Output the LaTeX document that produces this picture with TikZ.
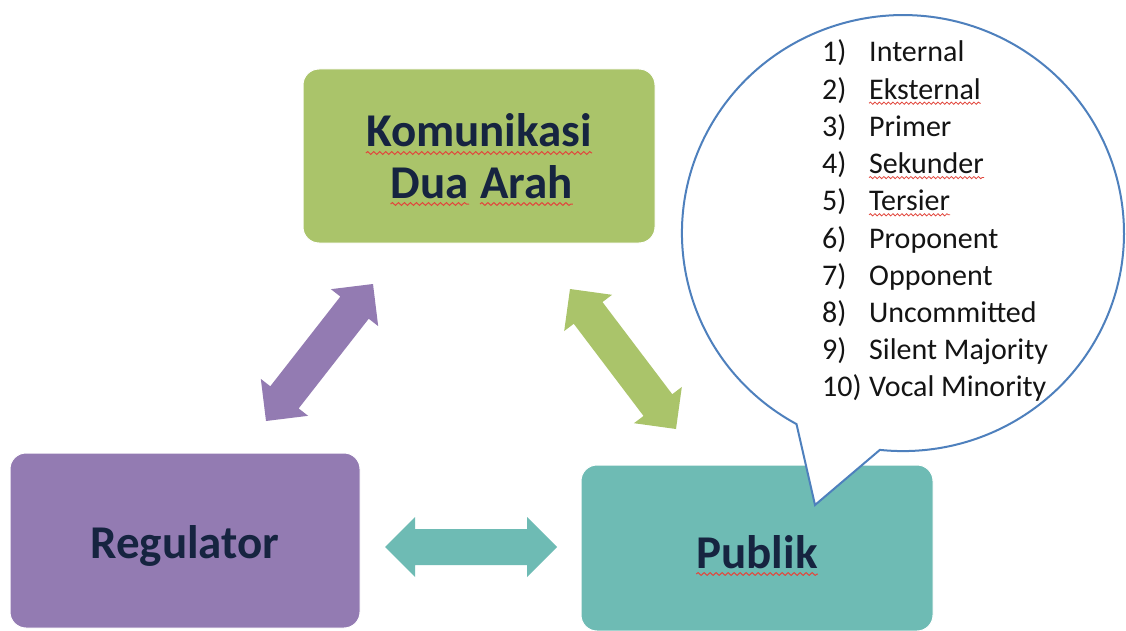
\documentclass[tikz,border=0pt]{standalone}
\usepackage{fontspec}
\setmainfont{Carlito}
\usetikzlibrary{calc,decorations.pathmorphing}
\definecolor{kgreen}{RGB}{170,196,106}
\definecolor{kpurple}{RGB}{147,123,178}
\definecolor{kteal}{RGB}{110,187,180}
\definecolor{knavy}{RGB}{22,36,64}
\definecolor{kblue}{RGB}{78,128,189}
\definecolor{ktext}{RGB}{20,20,20}
\definecolor{wavered}{RGB}{226,70,60}
\newcommand{\dblarrow}[3]{%
  \coordinate (ha) at ($(#1)!30pt!(#2)$);
  \coordinate (hb) at ($(#2)!30pt!(#1)$);
  \fill[#3] (#1) -- ($(ha)!30pt!90:(#2)$) -- ($(ha)!18pt!90:(#2)$)
    -- ($(hb)!18pt!-90:(#1)$) -- ($(hb)!30pt!-90:(#1)$) -- (#2)
    -- ($(hb)!30pt!90:(#1)$) -- ($(hb)!18pt!90:(#1)$)
    -- ($(ha)!18pt!-90:(#2)$) -- ($(ha)!30pt!-90:(#2)$) -- cycle;}
\tikzset{
  box/.style={rounded corners=16pt, draw=white, line width=1pt, inner sep=0pt},
  lbl/.style={text=knavy, font=\fontsize{47}{51}\selectfont\bfseries, inner sep=0pt},
  item/.style={text=ktext, font=\fontsize{30}{36}\selectfont, inner sep=0pt},
  bubble/.style={draw=kblue, line width=2pt, fill=white, line join=miter},
  bigwavy/.style={draw=wavered, line width=1pt, decorate, decoration={snake, segment length=6pt, amplitude=1.4pt}},
  smallwavy/.style={draw=wavered, line width=0.8pt, decorate, decoration={snake, segment length=4.5pt, amplitude=1.1pt}}
}
\begin{document}
\begin{tikzpicture}[x=1pt,y=-1pt]
\useasboundingbox (0,0) rectangle (1126,631);
\fill[white] (0,0) rectangle (1126,631);
% boxes
\node[box, fill=kgreen, minimum width=352pt, minimum height=174pt] (kom) at (479,156) {};
\node[box, fill=kpurple, minimum width=350pt, minimum height=175pt] (reg) at (185,540.5) {};
\node[box, fill=kteal, minimum width=352pt, minimum height=166pt] (pub) at (757,548) {};
% labels
\node[lbl, anchor=base] (kom1) at ($(kom.center)+(0,-9)$) {Komunikasi};
\node[lbl, anchor=base east] (dua) at (469,198) {Dua};
\node[lbl, anchor=base west] (arah) at (480,198) {Arah};
\node[lbl, anchor=base] (regl) at ($(reg.center)+(0,17.5)$) {Regulator};
\node[lbl, anchor=base] (publ) at ($(pub.center)+(0,20)$) {Publik};
\foreach \w in {kom1,dua,arah,publ}
  \draw[bigwavy] ($(\w.base west)+(0,6)$) -- ($(\w.base east)+(0,6)$);
% arrows
\coordinate (pa) at (373,284); \coordinate (pb) at (266,421);
\coordinate (ga) at (570,289); \coordinate (gb) at (676,429);
\coordinate (ta) at (385,547); \coordinate (tb) at (557,547);
\dblarrow{pa}{pb}{kpurple}
\dblarrow{ga}{gb}{kgreen}
\dblarrow{ta}{tb}{kteal}
% speech bubble
\coordinate (btip) at (815,505);
\draw[bubble] (796.5,424.1) arc[start angle=118.8, end angle=456, x radius=221, y radius=218] -- (btip) -- cycle;
\foreach \n/\t [count=\i from 0] in {1/Internal, 2/Eksternal, 3/Primer, 4/Sekunder, 5/Tersier, 6/Proponent, 7/Opponent, 8/Uncommitted, 9/Silent Majority, 10/Vocal Minority}{
  \node[item, anchor=base west] (n\n) at (822, 62+37.2*\i) {\n)};
  \node[item, anchor=base west] (w\n) at (869, 62+37.2*\i) {\t};
}
\foreach \k in {2,4,5}
  \draw[smallwavy] ($(w\k.base west)+(0,4)$) -- ($(w\k.base east)+(0,4)$);
\end{tikzpicture}
\end{document}
